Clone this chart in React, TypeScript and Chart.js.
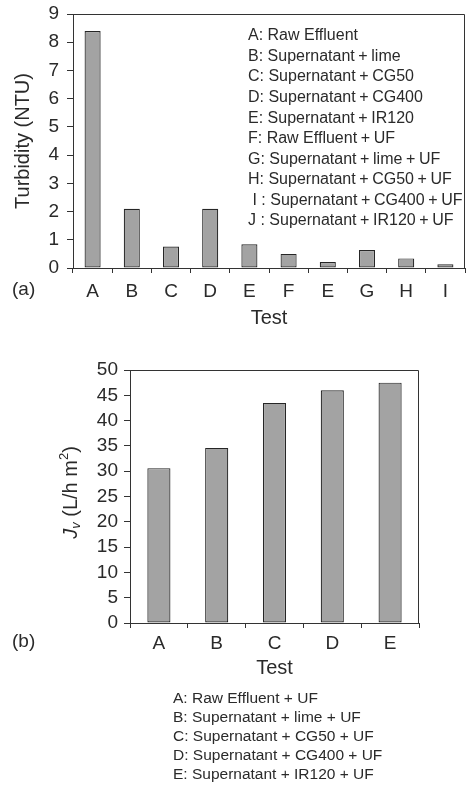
import React, { useEffect, useRef } from 'react';
import { Chart, registerables } from 'chart.js';

Chart.register(...registerables);

// ---------- data ----------
const testsA = ['A', 'B', 'C', 'D', 'E', 'F', 'E', 'G', 'H', 'I'];
const turbidity = [8.4, 2.1, 0.76, 2.1, 0.84, 0.5, 0.21, 0.64, 0.34, 0.13];
const legendA = [
  'A: Raw Effluent',
  'B: Supernatant + lime',
  'C: Supernatant + CG50',
  'D: Supernatant + CG400',
  'E: Supernatant + IR120',
  'F: Raw Effluent + UF',
  'G: Supernatant + lime + UF',
  'H: Supernatant + CG50 + UF',
  ' I : Supernatant + CG400 + UF',
  'J : Supernatant + IR120 + UF',
];

const testsB = ['A', 'B', 'C', 'D', 'E'];
const flux = [30.6, 34.6, 43.5, 46.0, 47.5];
const legendB = [
  'A: Raw Effluent + UF',
  'B: Supernatant + lime + UF',
  'C: Supernatant + CG50 + UF',
  'D: Supernatant + CG400 + UF',
  'E: Supernatant + IR120 + UF',
];

// ---------- style ----------
const FONT = '"Liberation Sans", Arial, Helvetica, sans-serif';
const TEXT = '#2a2a2a';
const LINE = '#333333';
const BAR_FILL = '#a3a3a3';
const BAR_EDGE = '#262626';

Chart.defaults.font.family = FONT;
Chart.defaults.color = TEXT;

const boxPlugin = {
  id: 'box',
  afterDraw(chart: any) {
    const { ctx, chartArea } = chart;
    const { left, right, top, bottom } = chartArea;
    ctx.save();
    ctx.strokeStyle = LINE;
    ctx.lineWidth = 1;
    ctx.beginPath();
    ctx.moveTo(left, top + 0.5);
    ctx.lineTo(right - 0.5, top + 0.5);
    ctx.lineTo(right - 0.5, bottom);
    ctx.stroke();
    ctx.restore();
  },
};

// draws a legend line with tighter spacing around "+"
function drawLine(ctx: any, text: string, x: number, y: number, gap: number) {
  const parts = text.split(' + ');
  let cx = x;
  parts.forEach((p, i) => {
    ctx.fillText(p, cx, y);
    cx += ctx.measureText(p).width;
    if (i < parts.length - 1) {
      cx += gap;
      ctx.fillText('+', cx, y);
      cx += ctx.measureText('+').width + gap;
    }
  });
}

function makeTextPlugin(
  id: string,
  tag: string,
  tagY: number,
  lines: string[],
  lx: number,
  ly: number,
  step: number,
  size: number,
  gap: number,
  extra?: (chart: any) => void
) {
  return {
    id,
    afterDraw(chart: any) {
      const ctx = chart.ctx;
      ctx.save();
      ctx.fillStyle = TEXT;
      ctx.textBaseline = 'middle';
      ctx.textAlign = 'left';
      ctx.font = `19px ${FONT}`;
      ctx.fillText(tag, 12, tagY);
      ctx.font = `${size}px ${FONT}`;
      lines.forEach((t, i) => drawLine(ctx, t, lx, ly + i * step, gap));
      ctx.restore();
      if (extra) extra(chart);
    },
  };
}

function drawFluxTitle(chart: any) {
  const ctx = chart.ctx;
  const segs = [
    { t: 'J', f: `italic 20px ${FONT}`, dy: 0 },
    { t: 'v', f: `italic 13px ${FONT}`, dy: 5 },
    { t: ' (L/h m', f: `20px ${FONT}`, dy: 0 },
    { t: '2', f: `13px ${FONT}`, dy: -7 },
    { t: ')', f: `20px ${FONT}`, dy: 0 },
  ];
  ctx.save();
  ctx.fillStyle = TEXT;
  ctx.textBaseline = 'middle';
  ctx.textAlign = 'left';
  let total = 0;
  const widths = segs.map((s) => {
    ctx.font = s.f;
    const w = ctx.measureText(s.t).width;
    total += w;
    return w;
  });
  const cy = (chart.chartArea.top + chart.chartArea.bottom) / 2 - 4;
  ctx.translate(71, cy);
  ctx.rotate(-Math.PI / 2);
  let x = -total / 2;
  segs.forEach((s, i) => {
    ctx.font = s.f;
    ctx.fillText(s.t, x, s.dy);
    x += widths[i];
  });
  ctx.restore();
}

function xScale(height: number, pad: number) {
  return {
    type: 'category' as const,
    grid: { offset: true, drawOnChartArea: false, drawTicks: true, tickLength: 5, color: LINE, lineWidth: 1 },
    border: { display: true, color: LINE, width: 1 },
    ticks: { font: { size: 19 }, color: TEXT, padding: pad, maxRotation: 0, autoSkip: false },
    title: { display: true, text: 'Test', font: { size: 20 }, color: TEXT, padding: 0 },
    afterFit: (s: any) => {
      s.height = height;
    },
  };
}

function yScale(max: number, step: number, width: number, pad: number, title: any) {
  return {
    min: 0,
    max,
    grid: { drawOnChartArea: false, drawTicks: true, tickLength: 6, color: LINE, lineWidth: 1 },
    border: { display: true, color: LINE, width: 1 },
    ticks: { stepSize: step, autoSkip: false, font: { size: 19, lineHeight: 0.5 }, color: TEXT, padding: pad },
    title,
    afterFit: (s: any) => {
      s.width = width;
    },
  };
}

export default function App() {
  const refA = useRef<HTMLCanvasElement>(null);
  const refB = useRef<HTMLCanvasElement>(null);

  useEffect(() => {
    const chartA = new Chart(refA.current as HTMLCanvasElement, {
      type: 'bar',
      data: {
        labels: testsA,
        datasets: [
          {
            data: turbidity,
            backgroundColor: BAR_FILL,
            borderColor: BAR_EDGE,
            borderWidth: 1.2,
            borderSkipped: false,
            barPercentage: 0.41,
            categoryPercentage: 1,
          },
        ],
      },
      options: {
        animation: false,
        responsive: false,
        devicePixelRatio: 1,
        layout: { padding: { top: 14, right: 1, left: 0, bottom: 0 } },
        plugins: { legend: { display: false }, tooltip: { enabled: false } },
        scales: {
          x: xScale(62, 7),
          y: yScale(9, 1, 73, 8, {
            display: true,
            text: 'Turbidity (NTU)',
            font: { size: 20 },
            color: TEXT,
            padding: { top: 11, bottom: 0 },
          }),
        },
      },
      plugins: [boxPlugin, makeTextPlugin('txtA', '(a)', 290, legendA, 248, 36, 20.54, 16, 3.6)],
    } as any);

    const chartB = new Chart(refB.current as HTMLCanvasElement, {
      type: 'bar',
      data: {
        labels: testsB,
        datasets: [
          {
            data: flux,
            backgroundColor: BAR_FILL,
            borderColor: BAR_EDGE,
            borderWidth: 1.2,
            borderSkipped: false,
            barPercentage: 0.4,
            categoryPercentage: 1,
          },
        ],
      },
      options: {
        animation: false,
        responsive: false,
        devicePixelRatio: 1,
        layout: { padding: { top: 40, right: 47, left: 0, bottom: 106 } },
        plugins: { legend: { display: false }, tooltip: { enabled: false } },
        scales: {
          x: xScale(57, 4),
          y: yScale(50, 5, 130, 6, { display: false }),
        },
      },
      plugins: [boxPlugin, makeTextPlugin('txtB', '(b)', 312, legendB, 173, 369, 19, 15.5, 4.3, drawFluxTitle)],
    } as any);

    return () => {
      chartA.destroy();
      chartB.destroy();
    };
  }, []);

  return (
    <div style={{ position: 'absolute', left: 0, top: 0, width: 466, height: 786, background: '#fff' }}>
      <canvas ref={refA} width={466} height={330} style={{ position: 'absolute', left: 0, top: 0, display: 'block' }} />
      <canvas ref={refB} width={466} height={456} style={{ position: 'absolute', left: 0, top: 330, display: 'block' }} />
    </div>
  );
}
